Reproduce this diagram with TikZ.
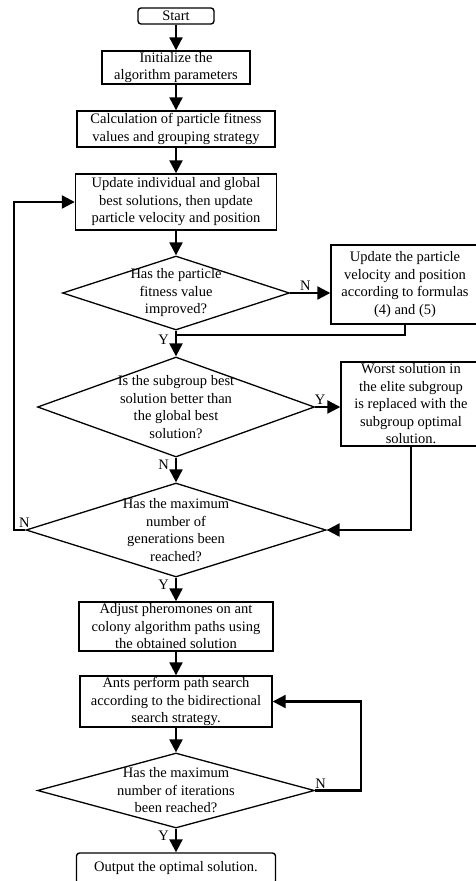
\documentclass[tikz,border=0pt]{standalone}
\usepackage{fontspec}
\setmainfont{Liberation Serif}
\usetikzlibrary{arrows.meta,shapes.geometric}
\begin{document}
\begin{tikzpicture}[x=1pt, y=-1pt,
        every node/.style={font=\fontsize{14.5}{17.5}\selectfont},
        box/.style={draw, line width=1.4pt, inner sep=0pt, align=center},
        endbox/.style={box, rounded corners=3pt},
        decision/.style={draw, diamond, line width=1.3pt, inner sep=0pt},
        flow/.style={line width=2.2pt, -{Triangle[length=13pt,width=13pt]}},
        link/.style={line width=2.2pt},
        yn/.style={inner sep=1pt}]
            \useasboundingbox (0,0) rectangle (476,881);

            \node[endbox, minimum width=76pt, minimum height=16pt] (start) at (176,16) {Start};
            \node[box, minimum width=148pt, minimum height=33pt] (init) at (176,67.5) {Initialize the\\algorithm parameters};
            \node[box, minimum width=198pt, minimum height=36pt] (calc) at (176,129) {Calculation of particle fitness\\values and grouping strategy};
            \node[box, minimum width=201pt, minimum height=56pt] (update) at (176,202) {Update individual and global\\best solutions, then update\\particle velocity and position};

            \node[decision, minimum width=227pt, minimum height=74pt,
                label={[align=center]center:Has the particle\\fitness value\\improved?}] (improved) at (176,293) {};
            \node[box, minimum width=148pt, minimum height=79pt] (formulas) at (405,284.5) {Update the particle\\velocity and position\\according to formulas\\(4) and (5)};
            \coordinate (join) at (176,335);

            \node[decision, minimum width=277pt, minimum height=100pt,
                label={[align=center]center:Is the subgroup best\\solution better than\\the global best\\solution?}] (better) at (176,407) {};
            \node[box, minimum width=140pt, minimum height=84pt] (worst) at (411,404) {Worst solution in\\the elite subgroup\\is replaced with the\\subgroup optimal\\solution.};

            \node[decision, minimum width=300pt, minimum height=94pt,
                label={[align=center]center:Has the maximum\\number of\\generations been\\reached?}] (generations) at (176,530) {};

            \node[box, minimum width=194pt, minimum height=49pt] (adjust) at (176,626.5) {Adjust pheromones on ant\\colony algorithm paths using\\the obtained solution};
            \node[box, minimum width=192pt, minimum height=51pt] (ants) at (176,701.5) {Ants perform path search\\according to the bidirectional\\search strategy.};

            \node[decision, minimum width=277pt, minimum height=75pt,
                label={[align=center]center:Has the maximum\\number of iterations\\been reached?}] (iterations) at (176,790.5) {};
            \node[endbox, minimum width=199pt, minimum height=31pt] (output) at (176,868.5) {Output the optimal solution.};

            \draw[flow] (start) -- (init);
            \draw[flow] (init) -- (calc);
            \draw[flow] (calc) -- (update);
            \draw[flow] (update) -- (improved);

            \draw[flow] (improved.east) -- node[yn, above, pos=0.38] (n1) {N} (improved.east -| formulas.west);
            \draw[link] (formulas.south) |- (join);
            \draw[flow] (improved.south) -- node[yn, left=5pt, pos=0.35] (y1) {Y} (better.north);

            \draw[flow] (better.east) -- node[yn, above, pos=0.2] (y2) {Y} (better.east -| worst.west);
            \draw[flow] (better.south) -- node[yn, left=5pt, pos=0.3] (n2) {N} (generations.north);
            \draw[flow] (worst.south) |- (generations.east);

            \draw[flow] (generations.west) -- node[yn, above, pos=0.1] (n3) {N} ++(-11,0) |- (update.west);
            \draw[flow] (generations.south) -- node[yn, left=5pt, pos=0.3] (y3) {Y} (adjust.north);

            \draw[flow] (adjust) -- (ants);
            \draw[flow] (ants) -- (iterations);

            \draw[flow] (iterations.east) -- node[yn, above, pos=0.12] (n4) {N} ++(46,0) |- (ants.east);
            \draw[flow] (iterations.south) -- node[yn, left=5pt, pos=0.32] (y4) {Y} (output.north);
        \end{tikzpicture}
\end{document}
